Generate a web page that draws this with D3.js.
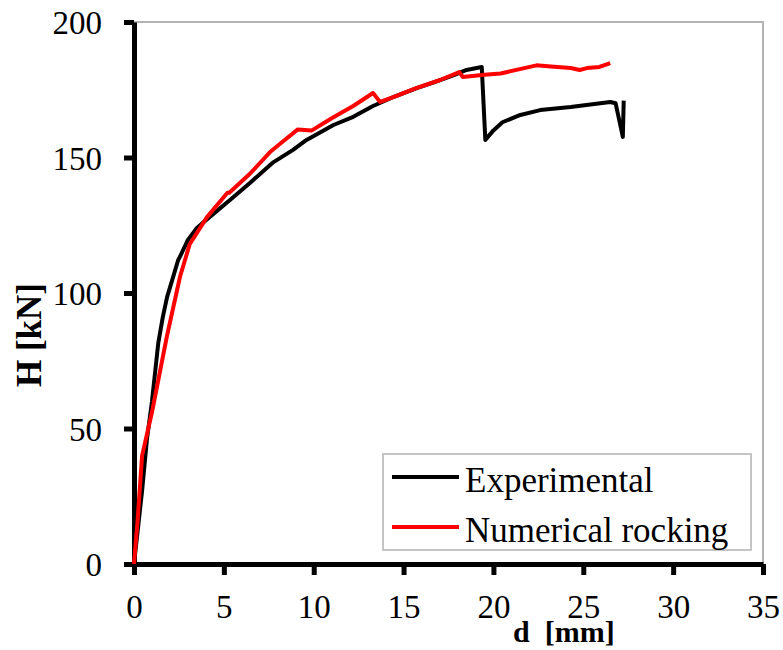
<!DOCTYPE html>
<html>
<head>
<meta charset="utf-8">
<script src="https://cdn.jsdelivr.net/npm/d3@7"></script>
<style>
  body { margin: 0; background: #fff; }
  text { font-family: "Liberation Serif", "Times New Roman", serif; }
</style>
</head>
<body>
<div id="chart"></div>
<script>
// Load-displacement curves, values
var expD = [0, 0.2, 0.45, 0.72, 1.0, 1.35, 1.6, 1.84, 2.0, 2.45, 2.6, 3.0, 3.5, 4.2, 5.34, 6.45, 7.7, 8.85, 9.6,
    11.1, 12.2, 13.3, 14.5, 15.7, 16.8, 17.8, 18.5, 19.35, 19.55, 20.0, 20.5, 21.5, 22.6, 24.3, 26.5, 26.8, 27.2, 27.25];
var expH = [0, 12, 27, 46, 60, 81.5, 91, 98.5, 102, 112, 114, 119.6, 124, 128, 134.3, 140.6, 148, 152.8, 156.5,
    162, 165, 169, 172.5, 175.5, 178, 180.4, 182.3, 183.4, 156.5, 160, 163, 165.7, 167.5, 168.6, 170.5, 170, 157.6, 171];

var numD = [0, 0.2, 0.45, 1.0, 1.83, 2.56, 3.1, 4.06, 5.2, 5.3, 6.45, 7.57, 8.3, 9.1, 9.9, 11.0, 12.2, 13.3, 13.7,
    14.5, 15.7, 17.0, 18.1, 18.3, 19.5, 20.4, 22.4, 23.2, 24.3, 24.8, 25.2, 25.9, 26.5];
var numH = [0, 16, 40, 56, 84, 106, 118, 128, 137, 137, 144, 152, 156, 160.3, 160, 164.5, 169, 173.8, 170.5,
    172.5, 175.6, 178.5, 181.5, 179.7, 180.5, 181, 184, 183.6, 183, 182.3, 183, 183.4, 184.8];

var xTicks = [0, 5, 10, 15, 20, 25, 30, 35];
var yTicks = [0, 50, 100, 150, 200];
var seriesNames = ["Experimental", "Numerical rocking"];
var seriesColors = ["#000000", "#ff0000"];

var width = 783, height = 650;
var margin = {top: 22, right: 20, bottom: 86, left: 134};

var x = d3.scaleLinear().domain([0, 35]).range([margin.left, width - margin.right]);
var y = d3.scaleLinear().domain([0, 200]).range([height - margin.bottom, margin.top]);

var svg = d3.select("#chart").append("svg")
    .attr("width", width)
    .attr("height", height);

// gray frame on top and right
svg.append("path")
    .attr("d", "M" + x(0) + "," + y(200) + "H" + x(35) + "V" + y(0))
    .attr("fill", "none")
    .attr("stroke", "#b3b3b3")
    .attr("stroke-width", 2);

// axes
var xAxis = svg.append("g")
    .attr("transform", "translate(0," + y(0) + ")")
    .call(d3.axisBottom(x).tickValues(xTicks).tickSize(11).tickPadding(20).tickSizeOuter(0));
var yAxis = svg.append("g")
    .attr("transform", "translate(" + x(0) + ",0)")
    .call(d3.axisLeft(y).tickValues(yTicks).tickSize(10).tickPadding(22).tickSizeOuter(0));

[xAxis, yAxis].forEach(function(a) {
    a.select(".domain").attr("stroke", "#000").attr("stroke-width", 5);
    a.selectAll(".tick line").attr("stroke", "#000").attr("stroke-width", 5);
    a.selectAll(".tick text")
        .attr("fill", "#000")
        .style("font-family", "'Liberation Serif', 'Times New Roman', serif")
        .style("font-size", "33px");
});
yAxis.selectAll(".tick text").attr("dy", "0.36em");

// curves
var line = d3.line()
    .x(function(d) { return x(d[0]); })
    .y(function(d) { return y(d[1]); });

var series = [
    d3.zip(expD, expH),
    d3.zip(numD, numH)
];

series.forEach(function(s, i) {
    svg.append("path")
        .datum(s)
        .attr("fill", "none")
        .attr("stroke", seriesColors[i])
        .attr("stroke-width", 4)
        .attr("stroke-linejoin", "round")
        .attr("d", line);
});

// axis titles
svg.append("text")
    .attr("transform", "translate(41,335) rotate(-90)")
    .attr("text-anchor", "middle")
    .style("font-weight", "bold")
    .style("font-size", "35px")
    .text("H [kN]");

svg.append("text")
    .attr("x", 513)
    .attr("y", 642)
    .style("font-weight", "bold")
    .style("font-size", "30px")
    .style("white-space", "pre")
    .text("d  [mm]");

// legend
var legend = svg.append("g");
legend.append("rect")
    .attr("x", 383).attr("y", 454)
    .attr("width", 368).attr("height", 96)
    .attr("fill", "#fff")
    .attr("stroke", "#b3b3b3")
    .attr("stroke-width", 1.5);

seriesNames.forEach(function(name, i) {
    var ly = 477 + i * 50;
    legend.append("line")
        .attr("x1", 392).attr("x2", 459)
        .attr("y1", ly).attr("y2", ly)
        .attr("stroke", seriesColors[i])
        .attr("stroke-width", 4);
    legend.append("text")
        .attr("x", 465)
        .attr("y", ly + 15)
        .style("font-size", "35px")
        .text(name);
});
</script>
</body>
</html>
